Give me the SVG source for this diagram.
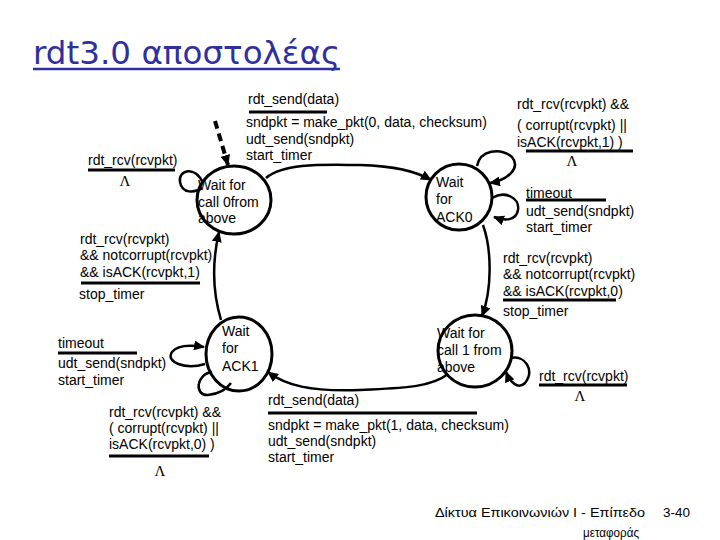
<svg xmlns="http://www.w3.org/2000/svg" width="720" height="540" viewBox="0 0 720 540">
<style>
  .t{font-family:"Liberation Sans",Arial,sans-serif;font-size:14px;fill:#000}
  .f{font-family:"Liberation Sans",Arial,sans-serif;font-size:13.5px;fill:#000}
  .lam{font-family:"Liberation Serif","Times New Roman",serif;font-size:15px;fill:#000}
  .bar{stroke:#000;stroke-width:3}
  .st{fill:none;stroke:#000;stroke-width:3}
  .e{fill:none;stroke:#000;stroke-width:2.5}
  .ea{fill:none;stroke:#000;stroke-width:2.5;marker-end:url(#ah)}
</style>
<defs>
  <marker id="ah" markerUnits="userSpaceOnUse" markerWidth="12" markerHeight="10" refX="10" refY="5" orient="auto">
    <path d="M0,0 L11,5 L0,10 Z" fill="#000"/>
  </marker>
</defs>
<rect width="720" height="540" fill="#fff"/>

<g id="title">
  <text x="33" y="64" font-family="'DejaVu Sans',sans-serif" font-size="32" fill="#2f2f9e" textLength="307" lengthAdjust="spacingAndGlyphs">rdt3.0 αποστολέας</text>
  <line x1="33" y1="69" x2="340" y2="69" stroke="#2f2f9e" stroke-width="2.5"/>
</g>

<g id="connectors">
  <path d="M215,121 L228,165" fill="none" stroke="#000" stroke-width="4" stroke-dasharray="8 5" marker-end="url(#ah)"/>
  <path class="e" d="M203,183 C195,165 178,170 180,182 C182,194 195,193 202,188"/>
  <path class="ea" d="M266,178 C285,162 330,165 360,165 C395,166 415,171 431,180"/>
  <path class="ea" d="M477,166 C480,150 500,147 512,157 C521,168 508,180 490,183"/>
  <path class="ea" d="M492,198 C505,190 520,198 518,210 C516,221 505,221 494,217"/>
  <path class="ea" d="M483,225 C492,250 492,290 482,316"/>
  <path class="ea" d="M511,358 C525,355 535,370 525,383 C518,390 510,382 506,372"/>
  <path class="ea" d="M448,374 C430,388 400,388 360,390 C310,392 285,385 268,372"/>
  <path class="ea" d="M205,364 C185,370 165,362 172,352 C178,344 192,345 204,347"/>
  <path class="e" d="M212,372 C196,374 194,396 208,395 C218,394 226,390 231,383"/>
  <path class="ea" d="M221,320 C212,290 212,262 219,232"/>
</g>

<g id="wait-call0">
  <ellipse class="st" cx="234" cy="200" rx="37" ry="34"/>
  <text class="t" x="198" y="190">Wait for</text>
  <text class="t" x="198" y="207">call 0from</text>
  <text class="t" x="198" y="223">above</text>
</g>
<g id="wait-ack0">
  <circle class="st" cx="459" cy="197" r="33"/>
  <text class="t" x="436" y="187">Wait</text>
  <text class="t" x="436" y="204">for</text>
  <text class="t" x="436" y="222">ACK0</text>
</g>
<g id="wait-ack1">
  <ellipse class="st" cx="239" cy="354" rx="33" ry="37"/>
  <text class="t" x="222" y="336">Wait</text>
  <text class="t" x="222" y="353">for</text>
  <text class="t" x="222" y="371">ACK1</text>
</g>
<g id="wait-call1">
  <ellipse class="st" cx="475" cy="351" rx="37" ry="36"/>
  <text class="t" x="437" y="338">Wait for</text>
  <text class="t" x="437" y="355">call 1 from</text>
  <text class="t" x="437" y="372">above</text>
</g>

<g id="labels">
  <text class="t" x="248" y="104">rdt_send(data)</text>
  <line class="bar" x1="249" y1="112" x2="327" y2="112"/>
  <text class="t" x="246" y="127">sndpkt = make_pkt(0, data, checksum)</text>
  <text class="t" x="246" y="144">udt_send(sndpkt)</text>
  <text class="t" x="246" y="160">start_timer</text>

  <text class="t" x="88" y="165">rdt_rcv(rcvpkt)</text>
  <line class="bar" x1="88" y1="170" x2="175" y2="170"/>
  <text class="lam" x="125" y="186" text-anchor="middle">Λ</text>

  <text class="t" x="517" y="109">rdt_rcv(rcvpkt) &amp;&amp;</text>
  <text class="t" x="517" y="130">( corrupt(rcvpkt) ||</text>
  <text class="t" x="517" y="147">isACK(rcvpkt,1) )</text>
  <line class="bar" x1="526" y1="151" x2="633" y2="151"/>
  <text class="lam" x="572" y="166" text-anchor="middle">Λ</text>

  <text class="t" x="526" y="198">timeout</text>
  <line class="bar" x1="526" y1="200" x2="606" y2="200"/>
  <text class="t" x="526" y="216">udt_send(sndpkt)</text>
  <text class="t" x="526" y="232">start_timer</text>

  <text class="t" x="80" y="244">rdt_rcv(rcvpkt)</text>
  <text class="t" x="80" y="260">&amp;&amp; notcorrupt(rcvpkt)</text>
  <text class="t" x="80" y="277">&amp;&amp; isACK(rcvpkt,1)</text>
  <line class="bar" x1="81" y1="283" x2="200" y2="283"/>
  <text class="t" x="79" y="299">stop_timer</text>

  <text class="t" x="503" y="263">rdt_rcv(rcvpkt)</text>
  <text class="t" x="503" y="279">&amp;&amp; notcorrupt(rcvpkt)</text>
  <text class="t" x="503" y="296">&amp;&amp; isACK(rcvpkt,0)</text>
  <line class="bar" x1="503" y1="300" x2="616" y2="300"/>
  <text class="t" x="503" y="316">stop_timer</text>

  <text class="t" x="58" y="348">timeout</text>
  <line class="bar" x1="58" y1="353" x2="137" y2="353"/>
  <text class="t" x="58" y="368">udt_send(sndpkt)</text>
  <text class="t" x="58" y="385">start_timer</text>

  <text class="t" x="539" y="381">rdt_rcv(rcvpkt)</text>
  <line class="bar" x1="539" y1="385" x2="627" y2="385"/>
  <text class="lam" x="580" y="401" text-anchor="middle">Λ</text>

  <text class="t" x="109" y="417">rdt_rcv(rcvpkt) &amp;&amp;</text>
  <text class="t" x="109" y="433">( corrupt(rcvpkt) ||</text>
  <text class="t" x="109" y="449">isACK(rcvpkt,0) )</text>
  <line class="bar" x1="109" y1="456" x2="209" y2="456"/>
  <text class="lam" x="160" y="476" text-anchor="middle">Λ</text>

  <text class="t" x="268" y="405">rdt_send(data)</text>
  <line class="bar" x1="268" y1="413" x2="477" y2="413"/>
  <text class="t" x="268" y="430">sndpkt = make_pkt(1, data, checksum)</text>
  <text class="t" x="268" y="446">udt_send(sndpkt)</text>
  <text class="t" x="268" y="462">start_timer</text>
</g>

<g id="footer">
  <text class="f" x="435" y="517" textLength="210" lengthAdjust="spacingAndGlyphs">Δίκτυα Επικοινωνιών Ι - Επίπεδο</text>
  <text class="f" x="663" y="517">3-40</text>
  <text class="f" x="583" y="537" textLength="56" lengthAdjust="spacingAndGlyphs">μεταφοράς</text>
</g>
</svg>
